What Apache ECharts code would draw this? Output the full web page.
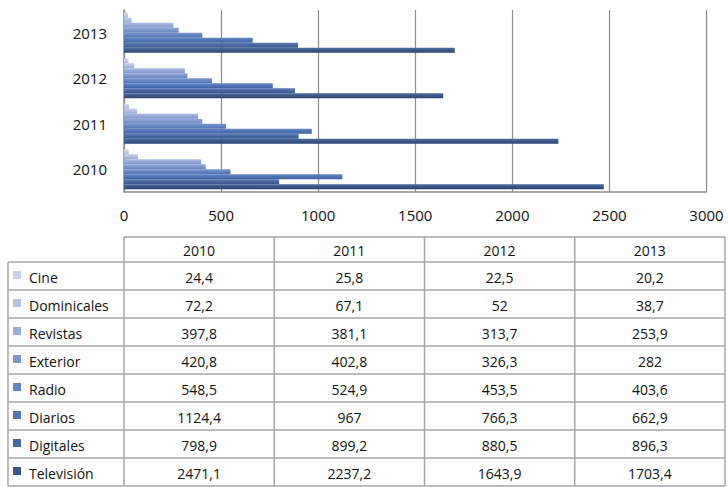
<!DOCTYPE html>
<html>
<head>
<meta charset="utf-8">
<script src="https://cdn.jsdelivr.net/npm/echarts@6/dist/echarts.min.js"></script>
<style>
html,body{margin:0;padding:0;background:#fff;}
#c{width:728px;height:487px;}
</style>
</head>
<body>
<div id="c"></div>
<script>
const years = ['2010', '2011', '2012', '2013'];
const seriesNames = ['Cine', 'Dominicales', 'Revistas', 'Exterior', 'Radio', 'Diarios', 'Digitales', 'Televisión'];
const cine = [24.4, 25.8, 22.5, 20.2];
const dominicales = [72.2, 67.1, 52, 38.7];
const revistas = [397.8, 381.1, 313.7, 253.9];
const exterior = [420.8, 402.8, 326.3, 282];
const radio = [548.5, 524.9, 453.5, 403.6];
const diarios = [1124.4, 967, 766.3, 662.9];
const digitales = [798.9, 899.2, 880.5, 896.3];
const television = [2471.1, 2237.2, 1643.9, 1703.4];
const xTicks = [0, 500, 1000, 1500, 2000, 2500, 3000];

const seriesValues = [cine, dominicales, revistas, exterior, radio, diarios, digitales, television];
const colors = [
  ['#d3dbee', '#c3cde5', '#aab7d6'],
  ['#c2cfea', '#afbfe0', '#97a9d2'],
  ['#abbce2', '#96aad7', '#7e93c6'],
  ['#93abdb', '#7c97cc', '#6580bb'],
  ['#7b99d2', '#6384c2', '#4f6fae'],
  ['#6687c6', '#4e74b5', '#3e61a0'],
  ['#5a7bb4', '#4767a0', '#36558a'],
  ['#4d6b9e', '#3a5787', '#2b4470']
];
const legendColors = ['#c8d2e8', '#b3c2e1', '#9aaed8', '#7f99cd', '#6586c3', '#5076b6', '#4769a2', '#3b5888'];

const FONT = 'Open Sans';
const TXT = '#111';
const TFONT = '14px "' + FONT + '"';

const chart = echarts.init(document.getElementById('c'), null, {renderer: 'svg'});

const series = seriesNames.map((name, i) => ({
  name: name,
  type: 'bar',
  data: seriesValues[i],
  barGap: '0%',
  barCategoryGap: '12%',
  itemStyle: {
    color: new echarts.graphic.LinearGradient(0, 0, 0, 1, [
      {offset: 0, color: colors[i][0]},
      {offset: 0.5, color: colors[i][1]},
      {offset: 1, color: colors[i][2]}
    ])
  },
  silent: true,
  animation: false
}));

// Table
const tLeft = 8, tColStart = 124, colW = 150.25, headTop = 237, headH = 25, rowH = 28;
const tRight = tColStart + colW * years.length;
const lineStyle = {stroke: '#a6a6a6', lineWidth: 1.5};
const g = [];
const nRows = seriesNames.length;
const tBottom = headTop + headH + rowH * nRows;
g.push({type: 'line', shape: {x1: tColStart, y1: headTop, x2: tRight, y2: headTop}, style: lineStyle, silent: true});
for (let r = 0; r <= nRows; r++) {
  const y = headTop + headH + rowH * r;
  g.push({type: 'line', shape: {x1: tLeft, y1: y, x2: tRight, y2: y}, style: lineStyle, silent: true});
}
g.push({type: 'line', shape: {x1: tLeft, y1: headTop + headH, x2: tLeft, y2: tBottom}, style: lineStyle, silent: true});
for (let c = 0; c <= years.length; c++) {
  const x = tColStart + colW * c;
  g.push({type: 'line', shape: {x1: x, y1: headTop, x2: x, y2: tBottom}, style: lineStyle, silent: true});
}
years.forEach((y, c) => {
  g.push({type: 'text', x: tColStart + colW * (c + 0.5), y: headTop + headH / 2 + 1,
    style: {text: y, fill: TXT, font: TFONT, align: 'center', verticalAlign: 'middle'}, silent: true});
});
seriesNames.forEach((name, r) => {
  const cy = headTop + headH + rowH * r + rowH / 2 + 1;
  g.push({type: 'rect', shape: {x: 13, y: cy - 6, width: 8, height: 8}, style: {fill: legendColors[r]}, silent: true});
  g.push({type: 'text', x: 29, y: cy,
    style: {text: name, fill: TXT, font: TFONT, align: 'left', verticalAlign: 'middle'}, silent: true});
  seriesValues[r].forEach((v, c) => {
    g.push({type: 'text', x: tColStart + colW * (c + 0.5), y: cy,
      style: {text: String(v).replace('.', ','), fill: TXT, font: TFONT, align: 'center', verticalAlign: 'middle'}, silent: true});
  });
});

chart.setOption({
  animation: false,
  backgroundColor: '#fff',
  textStyle: {fontFamily: FONT},
  grid: {left: 124, right: 21.5, top: 10, height: 182, containLabel: false},
  xAxis: {
    type: 'value', min: xTicks[0], max: xTicks[xTicks.length - 1], interval: 500,
    axisLine: {show: true, lineStyle: {color: '#8c8c8c', width: 1.5}},
    axisTick: {show: false},
    splitLine: {show: true, lineStyle: {color: '#8c8c8c', width: 1.2}},
    axisLabel: {color: TXT, fontSize: 15, fontFamily: FONT, margin: 15, formatter: v => String(v)}
  },
  yAxis: {
    type: 'category', data: years,
    axisLine: {show: true, lineStyle: {color: '#8c8c8c', width: 1.5}},
    axisTick: {show: false},
    axisLabel: {color: TXT, fontSize: 15, fontFamily: FONT, margin: 17}
  },
  series: series,
  graphic: g
});
</script>
</body>
</html>
